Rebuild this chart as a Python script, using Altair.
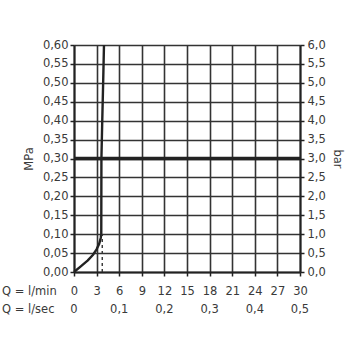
import altair as alt
import pandas as pd

# Flow / pressure curve (Q in l/min, p in MPa)
flow_lmin = [0, 0.9, 1.8, 2.5, 3.0, 3.35, 3.55, 3.62, 3.64, 3.75, 3.87, 3.98]
pressure_mpa = [0, 0.015, 0.03, 0.045, 0.06, 0.075, 0.09, 0.1, 0.3, 0.4, 0.5, 0.6]

# Dashed marker below the knee of the curve
knee_q = 3.75
knee_p = 0.1

# Reference pressure line
ref_pressure = 0.30

# Axis ticks
q_lmin_ticks = [0, 3, 6, 9, 12, 15, 18, 21, 24, 27, 30]
q_lsec_values = [0, 0.1, 0.2, 0.3, 0.4, 0.5]
q_lsec_labels = ["0", "0,1", "0,2", "0,3", "0,4", "0,5"]
row_names = ["Q = l/min", "Q = l/sec"]
p_ticks = [round(i * 0.05, 2) for i in range(13)]

W, H = 226, 227
FONT = "DejaVu Sans"
FS = 11.5
TXT = "#3a3a3a"
GRID = "#333333"

curve_df = pd.DataFrame({"q": flow_lmin, "p": pressure_mpa})
knee_df = pd.DataFrame({"q": [knee_q, knee_q], "p": [0, knee_p]})
ref_df = pd.DataFrame({"q": [0, 30], "p": [ref_pressure, ref_pressure]})
lsec_df = pd.DataFrame({"q": [v * 60 for v in q_lsec_values], "lab": q_lsec_labels})
one_row = pd.DataFrame({"k": [0]})

xscale = alt.Scale(domain=[0, 30], nice=False, zero=True)
yscale = alt.Scale(domain=[0, 0.6], nice=False)

x_axis = alt.Axis(values=q_lmin_ticks, title=None, grid=True, gridColor=GRID,
                  gridWidth=1.6, gridOpacity=1, domainColor="#222", domainWidth=2,
                  tickColor="#222", tickSize=4, tickWidth=1.5, labelPadding=9,
                  labelOverlap=False, labelFlush=False, labelFont=FONT,
                  labelFontSize=FS, labelColor=TXT)

left_axis = alt.Axis(values=p_ticks, title="MPa", orient="left", grid=True,
                     gridColor=GRID, gridWidth=1.6, gridOpacity=1,
                     domainColor="#222", domainWidth=2, tickColor="#222",
                     tickSize=4, tickWidth=1.5, labelPadding=2, labelOverlap=False,
                     labelFlush=False,
                     labelExpr="replace(format(datum.value, '.2f'), '.', ',')",
                     labelFont=FONT, labelFontSize=FS, labelColor=TXT,
                     titleFont=FONT, titleFontSize=FS, titleColor=TXT,
                     titleFontWeight="normal", titlePadding=8)

right_axis = alt.Axis(values=p_ticks, title="bar", orient="right", grid=False,
                      domainColor="#222", domainWidth=2, tickColor="#222",
                      tickSize=4, tickWidth=1.5, labelPadding=3, labelOverlap=False,
                      labelFlush=False,
                      labelExpr="replace(format(datum.value * 10, '.1f'), '.', ',')",
                      labelFont=FONT, labelFontSize=FS, labelColor=TXT,
                      titleFont=FONT, titleFontSize=FS, titleColor=TXT,
                      titleFontWeight="normal", titlePadding=6)

X = alt.X("q:Q", scale=xscale, axis=x_axis)

curve = alt.Chart(curve_df).mark_line(color="#222", strokeWidth=2.4,
                                      strokeJoin="round").encode(
    x=X,
    y=alt.Y("p:Q", scale=yscale, axis=left_axis),
)

ref = alt.Chart(ref_df).mark_line(color="#222", strokeWidth=3.5).encode(
    x=X,
    y=alt.Y("p:Q", scale=yscale, axis=right_axis),
)

knee = alt.Chart(knee_df).mark_line(color="#333", strokeWidth=1.4,
                                    strokeDash=[3, 3]).encode(
    x=X,
    y=alt.Y("p:Q", scale=yscale, axis=None),
)

lsec = alt.Chart(lsec_df).mark_text(font=FONT, fontSize=FS, color=TXT,
                                    baseline="middle", align="center").encode(
    x=X,
    y=alt.value(H + 38),
    text="lab:N",
)

row_min = alt.Chart(one_row).mark_text(
    font=FONT, fontSize=FS, color=TXT, baseline="middle", align="left",
    text=row_names[0],
).encode(x=alt.value(-72), y=alt.value(H + 20))

row_sec = alt.Chart(one_row).mark_text(
    font=FONT, fontSize=FS, color=TXT, baseline="middle", align="left",
    text=row_names[1],
).encode(x=alt.value(-72), y=alt.value(H + 38))

chart = alt.layer(curve, ref, knee, lsec, row_min, row_sec).resolve_axis(
    y="independent"
).properties(
    width=W, height=H,
    autosize=alt.AutoSizeParams(type="none"),
    padding={"left": 74, "top": 45, "right": 50, "bottom": 78},
    background="white",
).configure_view(stroke=None)

chart.save("out.html", embed_options={"renderer": "svg", "actions": False})
